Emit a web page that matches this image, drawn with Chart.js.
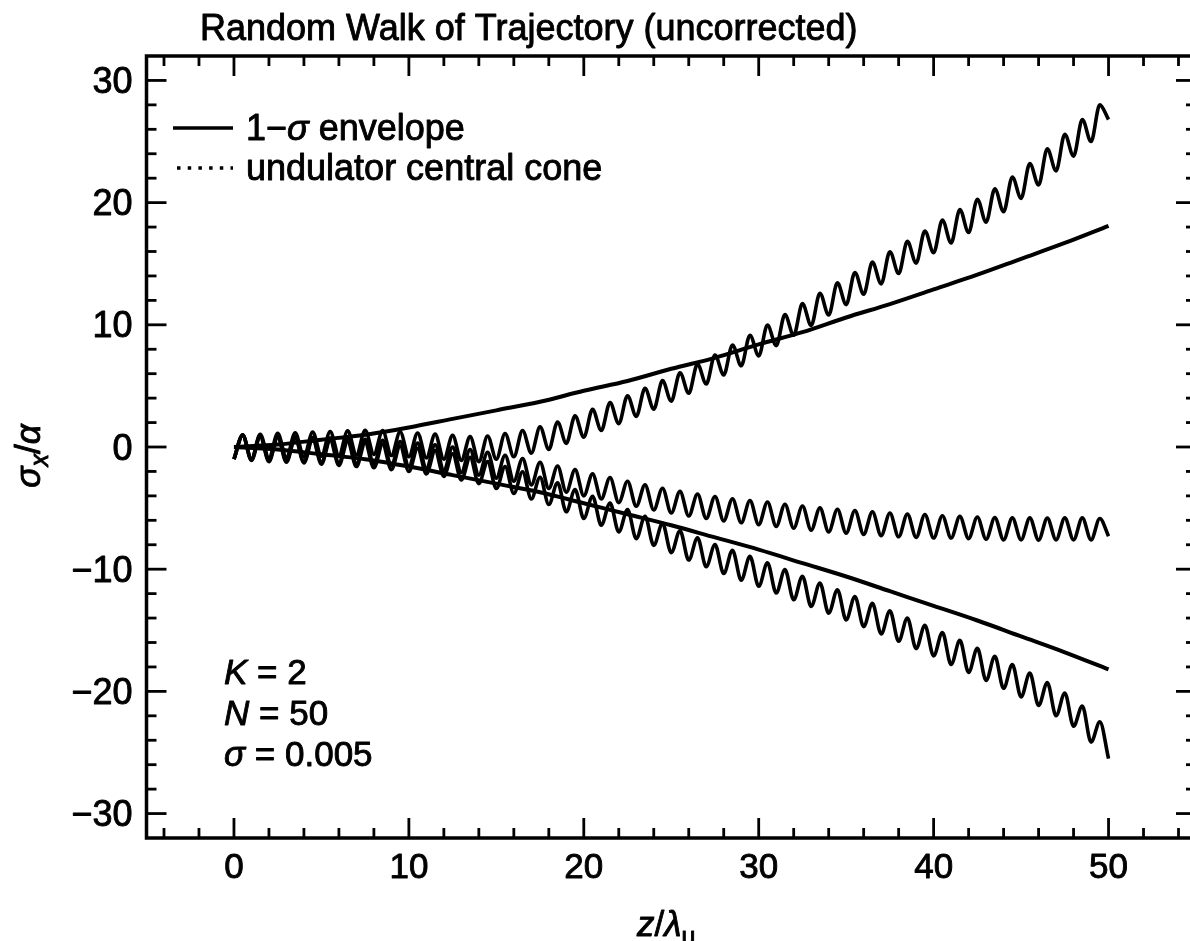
<!DOCTYPE html>
<html>
<head>
<meta charset="utf-8">
<title>Random Walk of Trajectory</title>
<script src="https://cdn.jsdelivr.net/npm/chart.js@4/dist/chart.umd.min.js"></script>
<style>
  html, body { margin: 0; padding: 0; background: #fff; overflow: hidden; }
  canvas { display: block; }
</style>
</head>
<body>
<canvas id="walkChart" width="1200" height="941"></canvas>
<script>
// === Data ===
const xTickValues = [0, 10, 20, 30, 40, 50];
const yTickValues = [-30, -20, -10, 0, 10, 20, 30];

// 1-sigma envelope
const envZ = [0, 2.5, 5, 7.5, 10, 12.5, 15, 17.5, 20, 22.5, 25, 27.5, 30, 32.5, 35, 37.5, 40, 42.5, 45, 47.5, 50];
const envUpper = [0, 0.2, 0.6, 1.0, 1.6, 2.3, 3.0, 3.7, 4.6, 5.4, 6.4, 7.3, 8.4, 9.4, 10.6, 11.7, 12.9, 14.1, 15.4, 16.7, 18.1];
const envLower = [0, -0.2, -0.6, -1.0, -1.6, -2.3, -3.0, -3.7, -4.6, -5.5, -6.4, -7.4, -8.4, -9.5, -10.6, -11.8, -13.0, -14.2, -15.5, -16.8, -18.2];

// trajectories: turning points (trough / crest) every half period
const waveZ = [0, 0.5, 1, 1.5, 2, 2.5, 3, 3.5, 4, 4.5, 5, 5.5, 6, 6.5, 7, 7.5, 8, 8.5, 9, 9.5,
  10, 10.5, 11, 11.5, 12, 12.5, 13, 13.5, 14, 14.5, 15, 15.5, 16, 16.5, 17, 17.5, 18, 18.5, 19, 19.5,
  20, 20.5, 21, 21.5, 22, 22.5, 23, 23.5, 24, 24.5, 25, 25.5, 26, 26.5, 27, 27.5, 28, 28.5, 29, 29.5,
  30, 30.5, 31, 31.5, 32, 32.5, 33, 33.5, 34, 34.5, 35, 35.5, 36, 36.5, 37, 37.5, 38, 38.5, 39, 39.5,
  40, 40.5, 41, 41.5, 42, 42.5, 43, 43.5, 44, 44.5, 45, 45.5, 46, 46.5, 47, 47.5, 48, 48.5, 49, 49.5, 50];

const trajUp = [-1.0, 1.0, -0.97, 1.04, -0.9, 1.12, -0.85, 1.17, -0.8, 1.22, -0.75, 1.27, -0.7, 1.32, -0.65, 1.37, -0.6, 1.35, -0.7, 1.25,
  -0.8, 1.15, -0.9, 1.05, -1.0, 0.95, -1.1, 0.85, -1.2, 0.9, -1.0, 1.1, -0.8, 1.35, -0.5, 1.65, -0.2, 2.05, 0.3, 2.55,
  0.8, 3.08, 1.35, 3.63, 1.9, 4.2, 2.5, 4.8, 3.1, 5.43, 3.75, 6.08, 4.4, 6.78, 5.15, 7.53, 5.9, 8.35, 6.65, 9.15,
  7.45, 9.98, 8.3, 10.83, 9.15, 11.73, 9.95, 12.58, 10.8, 13.43, 11.65, 14.28, 12.5, 15.13, 13.35, 15.98, 14.2, 16.83, 15.05, 17.68,
  15.9, 18.58, 16.7, 19.43, 17.55, 20.28, 18.4, 21.13, 19.25, 22.1, 20.35, 23.2, 21.45, 24.4, 22.6, 25.6, 23.8, 26.8, 25.0, 28.0, 26.8];

const trajMid = [-1.0, 0.97, -1.05, 0.93, -1.1, 0.88, -1.15, 0.83, -1.2, 0.78, -1.25, 0.73, -1.3, 0.68, -1.35, 0.63, -1.4, 0.55, -1.5, 0.45,
  -1.6, 0.33, -1.75, 0.18, -1.9, 0.0, -2.1, -0.2, -2.3, -0.43, -2.55, -0.68, -2.8, -0.95, -3.1, -1.25, -3.4, -1.55, -3.7, -1.85,
  -4.0, -2.2, -4.25, -2.5, -4.55, -2.8, -4.85, -3.1, -5.15, -3.38, -5.4, -3.63, -5.65, -3.85, -5.85, -4.05, -6.05, -4.23, -6.2, -4.38,
  -6.35, -4.5, -6.5, -4.68, -6.65, -4.83, -6.8, -4.98, -6.95, -5.1, -7.05, -5.2, -7.15, -5.3, -7.25, -5.4, -7.35, -5.48, -7.4, -5.53,
  -7.45, -5.63, -7.45, -5.68, -7.5, -5.73, -7.55, -5.78, -7.6, -5.8, -7.6, -5.8, -7.62, -5.82, -7.6, -5.8, -7.6, -5.8, -7.6, -5.85, -7.3];

const trajLow = [-1.0, 0.95, -1.1, 0.85, -1.2, 0.78, -1.25, 0.73, -1.3, 0.65, -1.4, 0.55, -1.5, 0.45, -1.6, 0.35, -1.7, 0.23, -1.85, 0.08,
  -2.0, -0.1, -2.2, -0.3, -2.4, -0.55, -2.7, -0.85, -3.0, -1.2, -3.4, -1.6, -3.8, -2.03, -4.25, -2.48, -4.7, -2.93, -5.3, -3.48,
  -5.85, -4.03, -6.4, -4.58, -6.95, -5.12, -7.5, -5.67, -8.05, -6.25, -8.65, -6.85, -9.25, -7.43, -9.8, -7.98, -10.35, -8.45, -10.9, -8.95,
  -11.4, -9.48, -11.95, -10.03, -12.5, -10.58, -13.05, -11.13, -13.6, -11.68, -14.15, -12.23, -14.7, -12.8, -15.3, -13.4, -15.9, -14.0, -16.5, -14.6,
  -17.1, -15.18, -17.8, -15.83, -18.45, -16.48, -19.1, -17.13, -19.75, -17.8, -20.45, -18.5, -21.15, -19.28, -22.0, -20.13, -22.85, -21.2, -24.15, -22.5, -25.5];

// === Helpers ===
const FONT = '"Liberation Sans", Arial, Helvetica, sans-serif';
const INK = '#000';
const TEXT_STROKE = 0.9; // scanned lettering is a little heavier than regular

const toPoints = (xs, ys) => xs.map((x, i) => ({ x: x, y: ys[i] }));
const fmtTick = v => (v < 0 ? '\u2212' + Math.abs(v) : String(v));

function setFont(ctx, r) {
  ctx.font = (r.italic ? 'italic ' : '') + r.size + 'px ' + FONT;
}

function runsWidth(ctx, runs) {
  let w = 0;
  runs.forEach(r => {
    setFont(ctx, r);
    w += ctx.measureText(r.text).width;
  });
  return w;
}

function drawRuns(ctx, runs, x, y) {
  runs.forEach(r => {
    setFont(ctx, r);
    ctx.fillText(r.text, x, y + (r.dy || 0));
    ctx.strokeText(r.text, x, y + (r.dy || 0));
    x += ctx.measureText(r.text).width;
  });
}

function seg(ctx, x1, y1, x2, y2) {
  ctx.beginPath();
  ctx.moveTo(x1, y1);
  ctx.lineTo(x2, y2);
  ctx.stroke();
}

// === Frame with inward ticks on all four sides ===
const frameTicks = {
  id: 'frameTicks',
  afterDatasetsDraw(chart) {
    const { ctx, chartArea: a, scales: { x, y } } = chart;
    ctx.save();
    ctx.strokeStyle = INK;
    ctx.lineCap = 'butt';
    ctx.lineWidth = 2.8;
    for (let v = -4; v <= 54; v += 2) {
      const px = x.getPixelForValue(v);
      const len = v % 10 === 0 ? 20 : 10;
      seg(ctx, px, a.bottom, px, a.bottom - len);
      seg(ctx, px, a.top, px, a.top + len);
    }
    for (let v = -30; v <= 30; v += 2) {
      const py = y.getPixelForValue(v);
      const len = v % 10 === 0 ? 20 : 10;
      seg(ctx, a.left, py, a.left + len, py);
      seg(ctx, a.right, py, a.right - len, py);
    }
    ctx.lineWidth = 3.5;
    ctx.strokeRect(a.left, a.top, a.right - a.left, a.bottom - a.top);
    ctx.restore();
  }
};

// === Tick labels, title, legend, notes and axis titles ===
const labels = {
  id: 'labels',
  afterDraw(chart) {
    const { ctx, chartArea: a, scales: { x, y } } = chart;
    ctx.save();
    ctx.fillStyle = INK;
    ctx.strokeStyle = INK;
    ctx.lineWidth = TEXT_STROKE;
    ctx.lineJoin = 'round';
    ctx.textBaseline = 'alphabetic';

    // tick labels
    ctx.textAlign = 'center';
    x.ticks.forEach(t => {
      drawRuns(ctx, [{ text: fmtTick(t.value), size: 35 }], x.getPixelForValue(t.value), a.bottom + 40);
    });
    ctx.textAlign = 'right';
    y.ticks.forEach(t => {
      drawRuns(ctx, [{ text: fmtTick(t.value), size: 36 }], a.left - 14, y.getPixelForValue(t.value) + 12.5);
    });
    ctx.textAlign = 'left';

    // title
    drawRuns(ctx, [{ text: 'Random Walk of Trajectory (uncorrected)', size: 36 }], 200, 40);

    // legend
    ctx.lineWidth = 3.5;
    seg(ctx, 173, 128, 233, 128);
    ctx.setLineDash([3.5, 7.2]);
    seg(ctx, 177, 168, 233, 168);
    ctx.setLineDash([]);
    ctx.lineWidth = TEXT_STROKE;
    drawRuns(ctx, [
      { text: '1\u2212', size: 36 },
      { text: '\u03c3', size: 36, italic: true },
      { text: ' envelope', size: 36 }
    ], 246, 140);
    drawRuns(ctx, [{ text: 'undulator central cone', size: 36 }], 246, 180);

    // parameters
    drawRuns(ctx, [{ text: 'K', size: 35, italic: true }, { text: ' = 2', size: 35 }], 224, 684);
    drawRuns(ctx, [{ text: 'N', size: 35, italic: true }, { text: ' = 50', size: 35 }], 224, 725);
    drawRuns(ctx, [{ text: '\u03c3', size: 35, italic: true }, { text: ' = 0.005', size: 35 }], 224, 766);

    // x title: z / lambda_u
    const xRuns = [
      { text: 'z', size: 35, italic: true },
      { text: '/', size: 35 },
      { text: '\u03bb', size: 35, italic: true },
      { text: 'u', size: 25, dy: 9 }
    ];
    const cx = (a.left + a.right) / 2 - 5;
    drawRuns(ctx, xRuns, cx - runsWidth(ctx, xRuns) / 2, 936);

    // y title: sigma_x / alpha
    const yRuns = [
      { text: '\u03c3', size: 35, italic: true },
      { text: 'x', size: 25, italic: true, dy: 8 },
      { text: '/', size: 35 },
      { text: '\u03b1', size: 35, italic: true }
    ];
    ctx.translate(40, 456);
    ctx.rotate(-Math.PI / 2);
    drawRuns(ctx, yRuns, -runsWidth(ctx, yRuns) / 2, 0);
    ctx.restore();
  }
};

// === Chart ===
const lineStyle = { showLine: true, borderColor: INK, pointRadius: 0, fill: false, cubicInterpolationMode: 'monotone' };
const ctx = document.getElementById('walkChart').getContext('2d');

const walkChart = new Chart(ctx, {
  type: 'scatter',
  data: {
    datasets: [
      Object.assign({ label: '1\u2212\u03c3 envelope (upper)', data: toPoints(envZ, envUpper), borderWidth: 4 }, lineStyle),
      Object.assign({ label: '1\u2212\u03c3 envelope (lower)', data: toPoints(envZ, envLower), borderWidth: 4 }, lineStyle),
      Object.assign({ label: 'trajectory 1', data: toPoints(waveZ, trajUp), borderWidth: 3.6 }, lineStyle),
      Object.assign({ label: 'trajectory 2', data: toPoints(waveZ, trajMid), borderWidth: 3.6 }, lineStyle),
      Object.assign({ label: 'trajectory 3', data: toPoints(waveZ, trajLow), borderWidth: 3.6 }, lineStyle)
    ]
  },
  options: {
    responsive: false,
    animation: false,
    layout: { padding: { left: 0, right: 4, top: 56, bottom: 0 } },
    plugins: {
      legend: { display: false },
      tooltip: { enabled: false },
      title: { display: false }
    },
    scales: {
      x: {
        type: 'linear',
        min: -5,
        max: 55,
        grid: { display: false, drawTicks: false },
        border: { display: false },
        afterBuildTicks: s => { s.ticks = xTickValues.map(v => ({ value: v })); },
        afterFit: s => { s.height = 103; },
        ticks: { display: false, autoSkip: false }
      },
      y: {
        type: 'linear',
        min: -32,
        max: 32,
        grid: { display: false, drawTicks: false },
        border: { display: false },
        afterBuildTicks: s => { s.ticks = yTickValues.map(v => ({ value: v })); },
        afterFit: s => { s.width = 146.5; },
        ticks: { display: false, autoSkip: false }
      }
    }
  },
  plugins: [frameTicks, labels]
});
</script>
</body>
</html>
